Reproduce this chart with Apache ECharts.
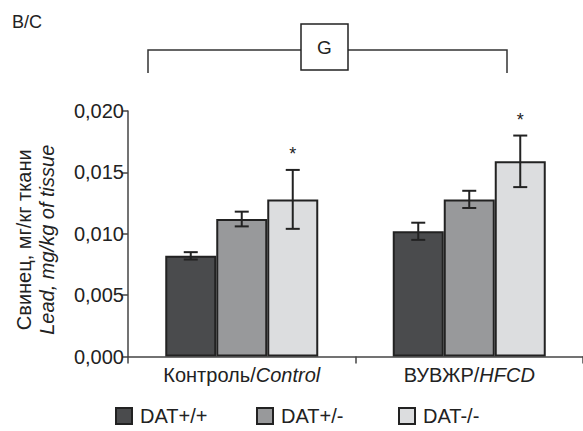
<!DOCTYPE html>
<html>
<head>
<meta charset="utf-8">
<script src="https://cdn.jsdelivr.net/npm/echarts@6/dist/echarts.min.js"></script>
<style>html,body{margin:0;padding:0;background:#fff}#c{width:583px;height:431px}</style>
</head>
<body>
<div id="c"></div>
<script>
// ---- data ----
var catRu = ['Контроль', 'ВУВЖР'];
var catEn = ['Control', 'HFCD'];
var categories = catRu.map(function (r, i) { return r + '/' + catEn[i]; });
var seriesNames = ['DAT+/+', 'DAT+/-', 'DAT-/-'];
var valuesWT  = [0.0082, 0.0102];
var valuesHet = [0.0112, 0.0128];
var valuesKO  = [0.0128, 0.0159];
var errWT  = [0.0003, 0.0007];
var errHet = [0.0006, 0.0007];
var errKO  = [0.0024, 0.0021];
var sigWT  = [0, 0];
var sigHet = [0, 0];
var sigKO  = [1, 1];
var yTicks = [0, 0.005, 0.010, 0.015, 0.020];

// ---- style ----
var FONT = 'Liberation Sans';
var FS = 20;
var colors = ['#4a4b4d', '#98999b', '#dcdddf'];
var BAR_W = 51;
var legendLeft = [115, 256, 398];
var groups = [
  {v: valuesWT, e: errWT, s: sigWT},
  {v: valuesHet, e: errHet, s: sigHet},
  {v: valuesKO, e: errKO, s: sigKO}
];
var errData = [];
groups.forEach(function (g, s) {
  g.v.forEach(function (v, i) {
    errData.push([i, v - g.e[i], v + g.e[i], s, g.s[i]]);
  });
});

var chart = echarts.init(document.getElementById('c'), null, {renderer: 'svg'});
var barSeries = seriesNames.map(function (n, s) {
  return {
    name: n, type: 'bar', data: groups[s].v, barWidth: BAR_W, barGap: '0%',
    itemStyle: {color: colors[s], borderColor: '#222', borderWidth: 2},
    emphasis: {disabled: true}, z: 2
  };
});
barSeries.push({
  type: 'custom', z: 5, silent: true, data: errData,
  renderItem: function (params, api) {
    var i = api.value(0), lo = api.value(1), hi = api.value(2), s = api.value(3), sig = api.value(4);
    var pHi = api.coord([i, hi]), pLo = api.coord([i, lo]);
    var x = pHi[0] + (s - 1) * BAR_W;
    var st = {stroke: '#222', lineWidth: 2};
    var ch = [
      {type: 'line', shape: {x1: x, y1: pHi[1], x2: x, y2: pLo[1]}, style: st},
      {type: 'line', shape: {x1: x - 7, y1: pHi[1], x2: x + 7, y2: pHi[1]}, style: st},
      {type: 'line', shape: {x1: x - 7, y1: pLo[1], x2: x + 7, y2: pLo[1]}, style: st}
    ];
    if (sig) {
      ch.push({type: 'text', style: {text: '*', x: x, y: pHi[1] - 7, align: 'center', verticalAlign: 'bottom',
        fontSize: 18, fontFamily: FONT, fill: '#222'}});
    }
    return {type: 'group', children: ch};
  }
});

var legends = seriesNames.map(function (n, s) {
  return {
    data: [n], left: legendLeft[s], top: 406, padding: 0, icon: 'rect', itemWidth: 16, itemHeight: 16,
    selectedMode: false,
    textStyle: {fontFamily: FONT, fontSize: FS, color: '#222', padding: [0, 0, 0, 3]}
  };
});

chart.setOption({
  animation: false,
  textStyle: {fontFamily: FONT},
  grid: {left: 128, top: 111, width: 458, height: 245.5},
  legend: legends,
  xAxis: {
    type: 'category', data: categories,
    axisLine: {lineStyle: {color: '#444', width: 1.5}},
    axisTick: {show: true, length: 7, lineStyle: {color: '#444', width: 1.5}},
    axisLabel: {
      interval: 0, margin: 8,
      formatter: function (v) { var p = v.split('/'); return '{a|' + p[0] + '/}{b|' + p[1] + '}'; },
      rich: {
        a: {fontFamily: FONT, fontSize: FS, color: '#222'},
        b: {fontFamily: FONT, fontSize: FS, color: '#222', fontStyle: 'italic'}
      }
    }
  },
  yAxis: {
    type: 'value', min: yTicks[0], max: yTicks[yTicks.length - 1], interval: 0.005,
    splitLine: {show: false},
    axisLine: {show: true, lineStyle: {color: '#444', width: 1.5}},
    axisTick: {show: true, length: 6, lineStyle: {color: '#444', width: 1.5}},
    axisLabel: {
      margin: 4, fontFamily: FONT, fontSize: FS, color: '#222',
      formatter: function (v) { return v.toFixed(3).replace('.', ','); }
    },
    name: '{a|Свинец, мг/кг ткани}\n{b|Lead, mg/kg of tissue}',
    nameLocation: 'middle', nameRotate: 90, nameGap: 70,
    nameTextStyle: {
      padding: [0, 12, 0, 0], lineHeight: 23,
      rich: {
        a: {fontFamily: FONT, fontSize: FS, color: '#222', lineHeight: 23},
        b: {fontFamily: FONT, fontSize: FS, color: '#222', fontStyle: 'italic', lineHeight: 23}
      }
    }
  },
  graphic: [
    {type: 'text', left: 12, top: 13, style: {text: 'B/C', fontSize: 18, fontFamily: FONT, fill: '#222'}},
    {type: 'polyline', shape: {points: [[148, 73], [148, 50], [301, 50]]}, style: {stroke: '#333', lineWidth: 1.5, fill: null}},
    {type: 'polyline', shape: {points: [[348, 50], [507, 50], [507, 73]]}, style: {stroke: '#333', lineWidth: 1.5, fill: null}},
    {type: 'rect', shape: {x: 301, y: 24, width: 47, height: 46}, style: {stroke: '#222', lineWidth: 1.5, fill: '#fff'}},
    {type: 'text', x: 324.5, y: 47, style: {text: 'G', fontSize: 19, fontFamily: FONT, fill: '#222', align: 'center', verticalAlign: 'middle'}}
  ],
  series: barSeries
});
</script>
</body>
</html>
